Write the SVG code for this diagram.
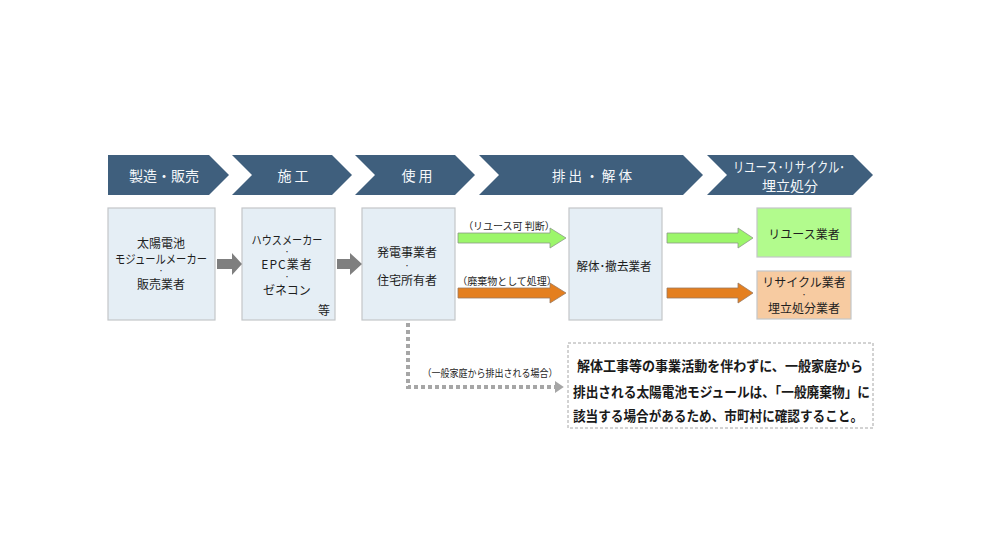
<svg xmlns="http://www.w3.org/2000/svg" width="992" height="540" viewBox="0 0 992 540">
<defs>
<style>
text{font-family:"Noto Sans CJK JP","Noto Sans",sans-serif;}
.chev{fill:#3F5F7D;}
.ct{fill:#F4F7FA;font-size:14px;text-anchor:middle;dominant-baseline:central;}
.box{fill:#E5EEF5;stroke:#C3C6C9;stroke-width:1.2;}
.bt{fill:#1E1E1E;font-size:12px;text-anchor:middle;dominant-baseline:central;}
.dot{fill:#1E1E1E;font-size:6px;text-anchor:middle;dominant-baseline:central;}
.lbl{fill:#1E1E1E;font-size:10px;text-anchor:middle;dominant-baseline:central;}
.gray{fill:#7F7F7F;}
.grn{fill:#9CF66A;stroke:#8C9A86;stroke-width:0.8;}
.org{fill:#E47F1F;stroke:#9A7A60;stroke-width:0.8;}
.note{fill:#1A1A1A;font-size:14px;font-weight:bold;dominant-baseline:central;}
</style>
<marker id="tri" markerWidth="3" markerHeight="3" refX="0" refY="1.5" orient="auto" markerUnits="strokeWidth">
<path d="M0,0 L2.2,1.5 L0,3 Z" fill="#A6A6A6"/>
</marker>
</defs>
<rect width="992" height="540" fill="#FFFFFF"/>

<g id="stage-1">
<path class="chev" d="M108,155 L209,155 L229,175 L209,195 L108,195 Z"/>
<text class="ct" x="164" y="175" textLength="70" lengthAdjust="spacingAndGlyphs">製造・販売</text>
</g>
<g id="stage-2">
<path class="chev" d="M232,155 L332,155 L352,175 L332,195 L232,195 L252,175 Z"/>
<text class="ct" x="293" y="175">施 工</text>
</g>
<g id="stage-3">
<path class="chev" d="M355,155 L455,155 L475,175 L455,195 L355,195 L375,175 Z"/>
<text class="ct" x="417" y="175">使 用</text>
</g>
<g id="stage-4">
<path class="chev" d="M479,155 L683,155 L703,175 L683,195 L479,195 L499,175 Z"/>
<text class="ct" x="592" y="175" textLength="80" lengthAdjust="spacingAndGlyphs">排 出 ・ 解 体</text>
</g>
<g id="stage-5">
<path class="chev" d="M707,155 L853,155 L873,175 L853,195 L707,195 L727,175 Z"/>
<text class="ct" x="789" y="166" font-size="13.5" textLength="112" lengthAdjust="spacingAndGlyphs">リユース･リサイクル･</text>
<text class="ct" x="790" y="185" font-size="13.5">埋立処分</text>
</g>

<g id="node-maker">
<rect class="box" x="108" y="208" width="107" height="112"/>
<text class="bt" x="161" y="242" font-size="11.5">太陽電池</text>
<text class="bt" x="161" y="258" font-size="11.5" textLength="92" lengthAdjust="spacingAndGlyphs">モジュールメーカー</text>
<text class="dot" x="161" y="270">・</text>
<text class="bt" x="161" y="283">販売業者</text>
</g>
<g id="node-construction">
<rect class="box" x="242" y="208" width="93" height="112"/>
<text class="bt" x="287" y="239" textLength="71" lengthAdjust="spacingAndGlyphs">ハウスメーカー</text>
<text class="dot" x="287" y="251">・</text>
<text class="bt" x="287" y="263" letter-spacing="1">EPC業者</text>
<text class="dot" x="287" y="276">・</text>
<text class="bt" x="287" y="289">ゼネコン</text>
<text class="bt" x="324" y="309">等</text>
</g>
<g id="node-user">
<rect class="box" x="362" y="208" width="93" height="112"/>
<text class="bt" x="407" y="251">発電事業者</text>
<text class="dot" x="407" y="265">・</text>
<text class="bt" x="407" y="279">住宅所有者</text>
</g>
<g id="node-demolition">
<rect class="box" x="569" y="208" width="93" height="112"/>
<text class="bt" x="614" y="265" textLength="75" lengthAdjust="spacingAndGlyphs">解体･撤去業者</text>
</g>
<g id="node-reuse">
<rect x="757" y="208" width="94" height="49" fill="#B2FB8D" stroke="#C3C6C9" stroke-width="1.2"/>
<text class="bt" x="804" y="233">リユース業者</text>
</g>
<g id="node-recycle">
<rect x="757" y="271" width="94" height="48" fill="#F7CBA1" stroke="#C3C6C9" stroke-width="1.2"/>
<text class="bt" x="804" y="281">リサイクル業者</text>
<text class="dot" x="804" y="294">・</text>
<text class="bt" x="804" y="307">埋立処分業者</text>
</g>
<g id="node-note">
<rect x="568" y="343" width="305" height="85" fill="#FFFFFF" stroke="#A6A6A6" stroke-width="1" stroke-dasharray="3 2"/>
<text class="note" x="577" y="365" textLength="286" lengthAdjust="spacingAndGlyphs">解体工事等の事業活動を伴わずに、一般家庭から</text>
<text class="note" x="573" y="391" textLength="297" lengthAdjust="spacingAndGlyphs">排出される太陽電池モジュールは、「一般廃棄物」に</text>
<text class="note" x="573" y="415" textLength="290" lengthAdjust="spacingAndGlyphs">該当する場合があるため、市町村に確認すること。</text>
</g>

<g id="connectors">
<polygon class="gray" points="217,259 232,259 232,253 242,264 232,275 232,269 217,269"/>
<polygon class="gray" points="337,259 350,259 350,253 362,264 350,275 350,269 337,269"/>
<polygon class="grn" points="458,233 550,233 550,228 566,238 550,248 550,243 458,243"/>
<polygon class="org" points="458,288 550,288 550,283 566,293 550,303 550,298 458,298"/>
<polygon class="grn" points="667,233 738,233 738,228 753,238 738,248 738,243 667,243"/>
<polygon class="org" points="667,288 738,288 738,283 753,293 738,303 738,298 667,298"/>
<path d="M408,323 V387 H555" fill="none" stroke="#A6A6A6" stroke-width="4" stroke-dasharray="4 3" marker-end="url(#tri)"/>
<text class="lbl" x="509" y="225">（リユース可 判断）</text>
<text class="lbl" x="507" y="280">（廃棄物として処理）</text>
<text class="lbl" x="490" y="372" textLength="135" lengthAdjust="spacingAndGlyphs">（一般家庭から排出される場合）</text>
</g>
</svg>
